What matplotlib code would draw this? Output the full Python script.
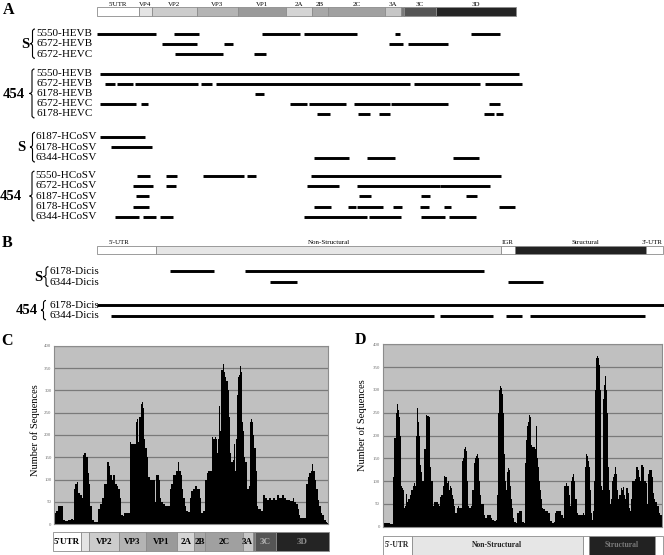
import matplotlib
matplotlib.use("Agg")
import matplotlib.pyplot as plt
from matplotlib.path import Path
from matplotlib.patches import PathPatch, Rectangle

plt.rcParams["font.family"] = ["Liberation Serif", "DejaVu Serif"]

# ---- genome maps (nt) ----
ev_names = ["5'UTR", "VP4", "VP2", "VP3", "VP1", "2A", "2B", "2C", "3A", "3B", "3C", "3D"]
ev_bounds = [0, 743, 960, 1760, 2480, 3330, 3790, 4075, 5085, 5355, 5420, 5980, 7400]
ev_colors = ["white", "#e4e4e4", "#cccccc", "#b4b4b4", "#9a9a9a", "#d4d4d4",
             "#a8a8a8", "#a0a0a0", "#c6c6c6", "#7a7a7a", "#555555", "#242424"]

dic_names = ["5'-UTR", "Non-Structural", "IGR", "Structural", "3'-UTR"]
dic_bounds = [0, 940, 6430, 6640, 8740, 9000]
dic_colors = ["white", "#e6e6e6", "white", "#222222", "white"]

# ---- panel A: contig coverage (start, end in nt) ----
hev_s_labels = ["5550-HEVB", "6572-HEVB", "6572-HEVC"]
hev_s_segs = [
    [(0, 1030), (1360, 1800), (2910, 3580), (3650, 4590), (5250, 5340), (6600, 7110)],
    [(1150, 1760), (2230, 2400), (5160, 5400), (5490, 6190)],
    [(1370, 2220), (2760, 2980)],
]
hev_454_labels = ["5550-HEVB", "6572-HEVB", "6178-HEVB", "6572-HEVC", "6178-HEVC"]
hev_454_segs = [
    [(40, 7440)],
    [(130, 320), (350, 630), (660, 1770), (1830, 2030), (2100, 5530), (5590, 6760), (6850, 7500)],
    [(2790, 2940)],
    [(40, 690), (770, 900), (3400, 3710), (3740, 4400), (4530, 5170), (5190, 6200), (6910, 7110)],
    [(3880, 4110), (4610, 4820), (4980, 5170), (6830, 7010), (7040, 7160)],
]
hcosv_s_labels = ["6187-HCoSV", "6178-HCoSV", "6344-HCoSV"]
hcosv_s_segs = [
    [(50, 850)],
    [(250, 970)],
    [(3830, 4440), (4760, 5260), (6280, 6740)],
]
hcosv_454_labels = ["5550-HCoSV", "6572-HCoSV", "6187-HCoSV", "6178-HCoSV", "6344-HCoSV"]
hcosv_454_segs = [
    [(700, 930), (1220, 1400), (1860, 2590), (2640, 2810), (3770, 7130)],
    [(630, 980), (1220, 1390), (3700, 4270), (4590, 6050), (6060, 6940)],
    [(680, 910), (4620, 4830), (5710, 5870), (6510, 6700)],
    [(630, 910), (3820, 4130), (4430, 4570), (4590, 5040), (5220, 5380), (5700, 5860),
     (6130, 6240), (7100, 7370)],
    [(310, 730), (810, 1030), (1100, 1340), (3650, 4760), (4800, 5370), (5710, 6140), (6220, 6680)],
]

# ---- panel B ----
dic_s_labels = ["6178-Dicis", "6344-Dicis"]
dic_s_segs = [[(1150, 1850), (2350, 6150)], [(2750, 3170), (6530, 7090)]]
dic_454_labels = ["6178-Dicis", "6344-Dicis"]
dic_454_segs = [[(-10, 9030)], [(220, 5360), (5460, 6290), (6510, 6760), (6890, 8710)]]

# ---- panel C / D: read depth (position nt, number of sequences) ----
c_profile = [
    (0, 25), (90, 30), (135, 40), (224, 40), (251, 10), (314, 8), (404, 10), (493, 12), (520, 10),
    (538, 80), (583, 90), (628, 95), (655, 70), (718, 65), (762, 60), (789, 155), (825, 160),
    (879, 150), (915, 115), (951, 90), (987, 40), (1032, 10), (1121, 5), (1166, 5), (1193, 35),
    (1256, 45), (1301, 60), (1363, 90), (1417, 90), (1453, 140), (1480, 130), (1525, 110),
    (1570, 100), (1615, 110), (1659, 90), (1704, 85), (1749, 80), (1794, 60), (1821, 20),
    (1866, 18), (1902, 25), (2018, 25), (2045, 185), (2108, 180), (2198, 180), (2225, 230),
    (2243, 235), (2269, 185), (2314, 240), (2350, 270), (2377, 275), (2404, 260), (2440, 190),
    (2476, 170), (2512, 150), (2556, 105), (2601, 100), (2691, 100), (2736, 50), (2763, 110),
    (2799, 110), (2843, 100), (2870, 60), (2915, 50), (2960, 45), (3005, 40), (3095, 40),
    (3140, 80), (3184, 90), (3229, 110), (3274, 110), (3319, 120), (3364, 140), (3391, 120),
    (3427, 110), (3453, 80), (3498, 60), (3543, 40), (3588, 30), (3633, 28), (3678, 60),
    (3723, 75), (3767, 80), (3812, 85), (3902, 80), (3947, 60), (3992, 25), (4037, 30),
    (4108, 100), (4144, 115), (4171, 120), (4234, 120), (4279, 195), (4306, 190), (4350, 195),
    (4395, 190), (4413, 160), (4440, 190), (4467, 265), (4485, 210), (4530, 345), (4557, 340),
    (4575, 360), (4593, 340), (4629, 330), (4664, 320), (4709, 300), (4736, 240), (4754, 160),
    (4772, 120), (4799, 140), (4844, 145), (4871, 180), (4898, 120), (4934, 190), (4951, 290),
    (4978, 330), (5005, 335), (5032, 355), (5050, 340), (5068, 250), (5095, 230), (5113, 210),
    (5140, 150), (5185, 140), (5230, 80), (5274, 85), (5292, 230), (5319, 235), (5346, 230),
    (5382, 200), (5427, 170), (5454, 120), (5490, 40), (5517, 35), (5624, 30), (5669, 65),
    (5723, 60), (5786, 55), (5831, 60), (5875, 55), (5920, 60), (5992, 55), (6055, 65),
    (6100, 60), (6189, 65), (6234, 60), (6297, 55), (6414, 52), (6458, 60), (6503, 50),
    (6548, 45), (6593, 35), (6620, 20), (6665, 15), (6781, 15), (6817, 90), (6862, 105),
    (6907, 115), (6952, 120), (6979, 135), (7015, 120), (7042, 100), (7086, 80), (7131, 55),
    (7176, 40), (7203, 25), (7266, 20), (7310, 10), (7355, 5), (7400, 3),
]
d_profile = [
    (0, 5), (80, 8), (180, 8), (290, 7), (320, 5), (340, 110), (380, 195), (410, 195), (450, 250),
    (480, 268), (510, 255), (540, 240), (560, 200), (590, 120), (620, 90), (640, 85), (660, 80),
    (690, 40), (720, 45), (750, 75), (770, 72), (790, 55), (830, 60), (860, 60), (900, 70),
    (940, 80), (990, 90), (1040, 95), (1070, 90), (1090, 200), (1110, 260), (1140, 268),
    (1160, 230), (1180, 200), (1200, 140), (1230, 135), (1260, 120), (1300, 100), (1330, 130),
    (1360, 170), (1390, 170), (1420, 245), (1460, 242), (1500, 240), (1520, 200), (1550, 130),
    (1590, 100), (1620, 70), (1650, 45), (1680, 55), (1740, 55), (1790, 50), (1820, 45),
    (1840, 65), (1900, 70), (1950, 90), (2000, 112), (2040, 110), (2070, 95), (2110, 100),
    (2140, 80), (2170, 90), (2200, 85), (2230, 70), (2270, 60), (2320, 45), (2360, 30),
    (2400, 40), (2440, 45), (2490, 40), (2520, 35), (2550, 40), (2580, 145), (2610, 150),
    (2650, 170), (2680, 175), (2710, 165), (2740, 100), (2770, 45), (2810, 40), (2860, 45),
    (2910, 80), (2950, 140), (2980, 150), (3010, 155), (3040, 160), (3070, 150), (3110, 100),
    (3140, 70), (3180, 50), (3240, 50), (3270, 25), (3340, 20), (3400, 25), (3450, 25),
    (3500, 20), (3560, 15), (3610, 12), (3660, 15), (3700, 70), (3730, 250), (3750, 300),
    (3780, 308), (3810, 305), (3850, 290), (3880, 250), (3910, 160), (3940, 100), (3980, 80),
    (4010, 120), (4040, 128), (4070, 125), (4110, 90), (4150, 60), (4180, 40), (4200, 20),
    (4250, 10), (4310, 8), (4360, 30), (4410, 35), (4470, 35), (4520, 10), (4570, 8),
    (4610, 140), (4640, 190), (4670, 220), (4700, 230), (4740, 245), (4770, 240), (4800, 180),
    (4840, 175), (4870, 175), (4910, 170), (4940, 225), (4960, 220), (4990, 150), (5020, 130),
    (5060, 100), (5090, 80), (5120, 60), (5150, 40), (5190, 38), (5270, 35), (5360, 30),
    (5410, 12), (5460, 8), (5540, 10), (5570, 30), (5610, 35), (5700, 35), (5750, 25),
    (5830, 20), (5870, 90), (5910, 95), (5970, 90), (6000, 70), (6030, 45), (6070, 100),
    (6110, 110), (6150, 115), (6180, 100), (6220, 60), (6260, 30), (6320, 25), (6400, 25),
    (6470, 30), (6510, 25), (6540, 130), (6570, 160), (6600, 155), (6630, 145), (6660, 130),
    (6700, 80), (6730, 30), (6770, 15), (6790, 35), (6820, 100), (6860, 300), (6890, 370),
    (6920, 375), (6950, 370), (6990, 355), (7020, 300), (7050, 90), (7080, 80), (7110, 280),
    (7150, 310), (7180, 330), (7210, 300), (7240, 250), (7270, 130), (7310, 80), (7340, 50),
    (7370, 60), (7390, 100), (7440, 110), (7470, 115), (7500, 130), (7530, 115), (7560, 80),
    (7600, 60), (7630, 70), (7680, 85), (7710, 80), (7740, 60), (7760, 88), (7790, 70),
    (7820, 60), (7860, 85), (7900, 75), (7930, 40), (7970, 35), (8010, 60), (8060, 100),
    (8100, 100), (8140, 105), (8190, 130), (8220, 125), (8250, 115), (8280, 110), (8310, 100),
    (8350, 135), (8380, 130), (8410, 120), (8440, 100), (8480, 95), (8510, 50), (8540, 110),
    (8570, 115), (8600, 125), (8640, 125), (8670, 110), (8700, 100), (8730, 75), (8760, 60),
    (8800, 55), (8830, 50), (8860, 45), (8910, 30), (8970, 25), (8990, 20),
]

W, H = 664, 555
fig = plt.figure(figsize=(W / 100, H / 100), dpi=100)


def px_axes(x0, y0, x1, y1):
    return fig.add_axes([x0 / W, 1 - y1 / H, (x1 - x0) / W, (y1 - y0) / H])


page = px_axes(0, 0, W, H)
page.set_xlim(0, W)
page.set_ylim(H, 0)
page.axis("off")


def track_axes(x0, x1, length):
    ax = px_axes(x0, 0, x1, H)
    ax.set_xlim(0, length)
    ax.set_ylim(H, 0)
    ax.axis("off")
    return ax


def genome_bar(ax, bounds, colors, y0, y1):
    for a, b, c in zip(bounds[:-1], bounds[1:], colors):
        ax.add_patch(Rectangle((a, y0), b - a, y1 - y0, fc=c, ec="#8c8c8c", lw=0.6, clip_on=False))


def brace(x, y0, y1, w=5.0):
    ym = (y0 + y1) / 2
    h = w / 2
    verts = [(x + w, y0), (x + h, y0), (x + h, y0 + h), (x + h, ym - h), (x + h, ym), (x, ym),
             (x + h, ym), (x + h, ym + h), (x + h, y1 - h), (x + h, y1), (x + w, y1)]
    codes = [Path.MOVETO, Path.CURVE3, Path.CURVE3, Path.LINETO, Path.CURVE3, Path.CURVE3,
             Path.CURVE3, Path.CURVE3, Path.LINETO, Path.CURVE3, Path.CURVE3]
    page.add_patch(PathPatch(Path(verts, codes), fc="none", ec="black", lw=0.8))


def group(ax, labels, segs, y_first, step, text_x, tag, tag_x, brace_x):
    ys = [y_first + i * step for i in range(len(labels))]
    for y, lab, row in zip(ys, labels, segs):
        page.text(text_x, y, lab, fontsize=8, ha="left", va="center")
        for a, b in row:
            ax.plot([a, b], [y, y], color="black", lw=2.1, solid_capstyle="butt", clip_on=False)
    brace(brace_x, ys[0] - 4.5, ys[-1] + 4)
    page.text(tag_x, (ys[0] + ys[-1]) / 2 + 0.5, tag, fontsize=10.5, fontweight="bold",
              ha="center", va="center")


# ---------------- panel A ----------------
page.text(8.5, 10, "A", fontsize=11.5, fontweight="bold", ha="center", va="center")
axA = track_axes(97.3, 516.3, ev_bounds[-1])
genome_bar(axA, ev_bounds, ev_colors, 7.4, 16.2)
for name, a, b in zip(ev_names, ev_bounds[:-1], ev_bounds[1:]):
    if name != "3B":
        axA.text((a + b) / 2, 6.8, name, fontsize=5, ha="center", va="bottom")

group(axA, hev_s_labels, hev_s_segs, 33.5, 10.4, 36.5, "S", 25, 30)
group(axA, hev_454_labels, hev_454_segs, 73.5, 10.1, 36.5, "454", 13.5, 29.5)
group(axA, hcosv_s_labels, hcosv_s_segs, 136.8, 10.6, 35.5, "S", 21, 30)
group(axA, hcosv_454_labels, hcosv_454_segs, 175.7, 10.3, 35.5, "454", 10.5, 29.5)

# ---------------- panel B ----------------
page.text(6.7, 243, "B", fontsize=11.5, fontweight="bold", ha="center", va="center")
axB = track_axes(97.4, 662.8, dic_bounds[-1])
genome_bar(axB, dic_bounds, dic_colors, 245.7, 254.3)
b_label_x = [340, (dic_bounds[1] + dic_bounds[2]) / 2, dic_bounds[2], 7770, dic_bounds[-1]]
b_label_ha = ["center", "center", "left", "center", "right"]
for name, x, ha in zip(dic_names, b_label_x, b_label_ha):
    axB.text(x, 245.2, name, fontsize=5, ha=ha, va="bottom")

group(axB, dic_s_labels, dic_s_segs, 271.2, 11.2, 49, "S", 38.5, 43.5)
group(axB, dic_454_labels, dic_454_segs, 305, 10.8, 49, "454", 27, 41)


# ---------------- panels C and D ----------------
def coverage(x0, y0, x1, y1, profile, length):
    ax = px_axes(x0, y0, x1, y1)
    pos = [p for p, _ in profile]
    cnt = [c for _, c in profile]
    ax.fill_between(pos, cnt, step="mid", color="black", lw=0)
    ax.set_xlim(0, length)
    ax.set_ylim(0, 400)
    ax.set_facecolor("#c0c0c0")
    ax.set_xticks([])
    ax.set_yticks(range(0, 401, 50))
    ax.yaxis.grid(True, color="#7a7a7a", lw=0.9)
    ax.set_axisbelow(True)
    ax.tick_params(axis="y", length=0, pad=2, labelsize=3.5, labelcolor="#707070")
    for s in ax.spines.values():
        s.set_color("#8c8c8c")
        s.set_linewidth(0.8)
    return ax


def bar_axes(x0, y0, x1, y1, bounds, colors, names, label_colors, size, weight):
    ax = px_axes(x0, y0, x1, y1)
    ax.set_xlim(0, bounds[-1])
    ax.set_ylim(0, 1)
    ax.axis("off")
    genome_bar(ax, bounds, colors, 0, 1)
    for name, a, b, col in zip(names, bounds[:-1], bounds[1:], label_colors):
        if col:
            ax.text((a + b) / 2, 0.5, name, fontsize=size, fontweight=weight, color=col,
                    ha="center", va="center")
    return ax


page.text(7, 341, "C", fontsize=11.5, fontweight="bold", ha="center", va="center")
coverage(54.3, 345.7, 328.3, 524.3, c_profile, ev_bounds[-1])
page.text(35, 430, "Number of Sequences", fontsize=7.5, rotation=90, ha="center", va="center")
c_label_colors = ["black", None, "black", "black", "black", "black", "black", "black",
                  "black", None, "#b4b4b4", "#8a8a8a"]
bar_axes(53.3, 532.2, 328.8, 551, ev_bounds, ev_colors, ev_names, c_label_colors, 6.5, "bold")

page.text(360, 340, "D", fontsize=11.5, fontweight="bold", ha="center", va="center")
coverage(382.7, 344.3, 662.3, 526.7, d_profile, dic_bounds[-1])
page.text(362, 425, "Number of Sequences", fontsize=7.5, rotation=90, ha="center", va="center")
d_label_colors = ["#222222", "#222222", None, "#7a7a7a", None]
bar_axes(382.7, 536.3, 662.7, 554.5, dic_bounds, dic_colors, dic_names, d_label_colors, 5.5, "bold")

fig.savefig("out.png", dpi=100)
